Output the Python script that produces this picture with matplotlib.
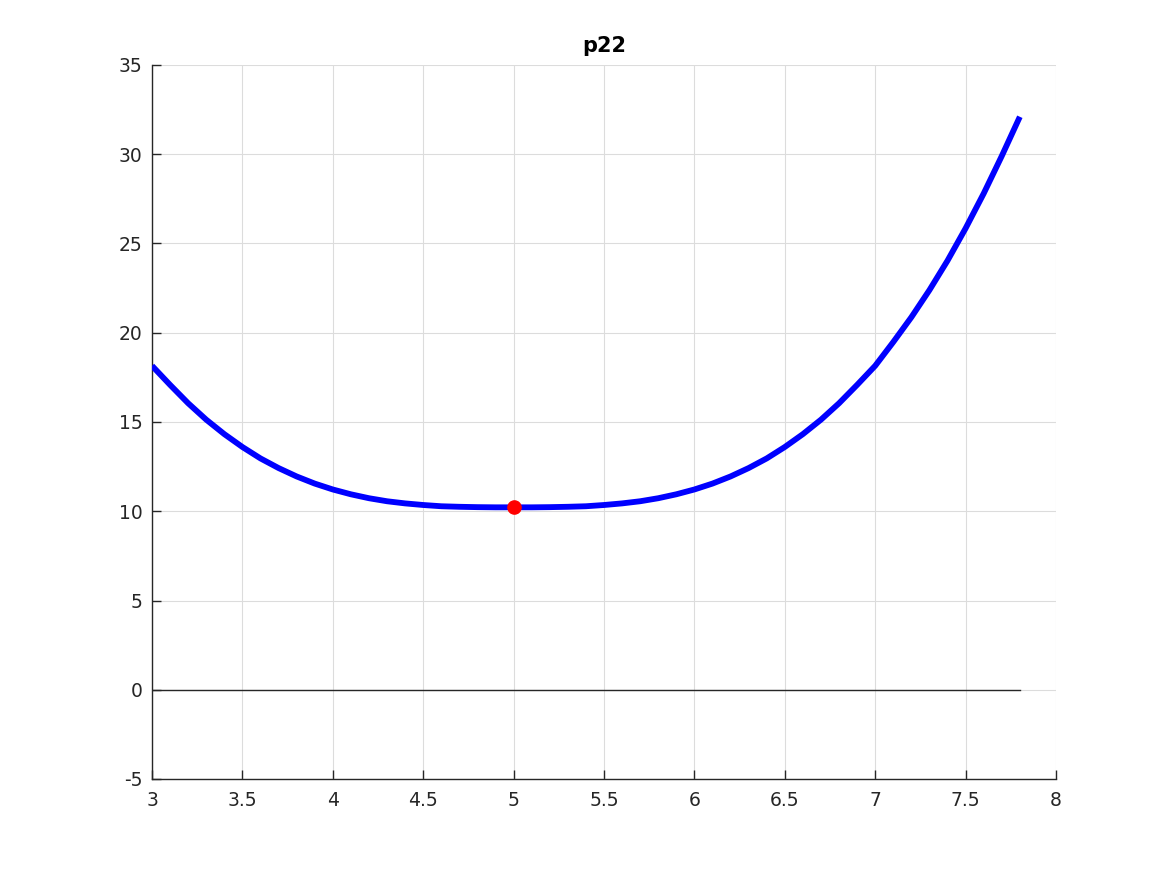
import matplotlib
matplotlib.use("Agg")
import matplotlib.pyplot as plt

# Curve values (every 0.1 along x)
x_vals = [3.0, 3.1, 3.2, 3.3, 3.4, 3.5, 3.6, 3.7, 3.8, 3.9,
          4.0, 4.1, 4.2, 4.3, 4.4, 4.5, 4.6, 4.7, 4.8, 4.9,
          5.0, 5.1, 5.2, 5.3, 5.4, 5.5, 5.6, 5.7, 5.8, 5.9,
          6.0, 6.1, 6.2, 6.3, 6.4, 6.5, 6.6, 6.7, 6.8, 6.9,
          7.0, 7.1, 7.2, 7.3, 7.4, 7.5, 7.6, 7.7, 7.8]
y_vals = [18.15, 17.08, 16.05, 15.13, 14.32, 13.60, 12.96, 12.42, 11.95, 11.55,
          11.22, 10.95, 10.73, 10.56, 10.44, 10.35, 10.28, 10.25, 10.23, 10.22,
          10.22, 10.22, 10.23, 10.25, 10.28, 10.35, 10.44, 10.56, 10.73, 10.95,
          11.22, 11.55, 11.95, 12.42, 12.96, 13.60, 14.32, 15.13, 16.05, 17.08,
          18.15, 19.48, 20.87, 22.39, 24.04, 25.85, 27.80, 29.90, 32.10]

# Highlighted point
pt_x = [5.0]
pt_y = [10.22]

# Zero reference line
zero_x = [3.0, 7.8]
zero_y = [0.0, 0.0]

title = "p22"
x_ticks = [3, 3.5, 4, 4.5, 5, 5.5, 6, 6.5, 7, 7.5, 8]
x_ticklabels = ["3", "3.5", "4", "4.5", "5", "5.5", "6", "6.5", "7", "7.5", "8"]
y_ticks = [-5, 0, 5, 10, 15, 20, 25, 30, 35]
y_ticklabels = ["-5", "0", "5", "10", "15", "20", "25", "30", "35"]

plt.rcParams['font.family'] = ['DejaVu Sans']

fig = plt.figure(figsize=(11.67, 8.75), dpi=100)
ax = fig.add_axes([152 / 1167, 1 - 779 / 875, (1056 - 152) / 1167, (779 - 65) / 875])

axcol = '#262626'
ax.plot(zero_x, zero_y, color=axcol, linewidth=1.0, zorder=2)
ax.plot(x_vals, y_vals, color='#0000ff', linewidth=4.2, solid_capstyle='butt',
        solid_joinstyle='round', zorder=3)
ax.plot(pt_x, pt_y, 'o', color='#ff0000', markersize=9.5, zorder=4)

ax.set_xlim(3, 8)
ax.set_ylim(-5, 35)
ax.set_xticks(x_ticks)
ax.set_xticklabels(x_ticklabels)
ax.set_yticks(y_ticks)
ax.set_yticklabels(y_ticklabels)

ax.grid(True, color='#dcdcdc', linewidth=0.8)
ax.set_axisbelow(True)

for s in ['top', 'right']:
    ax.spines[s].set_visible(False)
for s in ['left', 'bottom']:
    ax.spines[s].set_color(axcol)
    ax.spines[s].set_linewidth(1.0)

ax.tick_params(direction='in', length=6.5, width=1.0, color=axcol, labelcolor=axcol,
               labelsize=13.5)
ax.tick_params(axis='x', pad=9)
ax.tick_params(axis='y', pad=7)

ax.set_title(title, fontsize=15, fontweight='bold', pad=9)

fig.savefig('out.png', dpi=100)
